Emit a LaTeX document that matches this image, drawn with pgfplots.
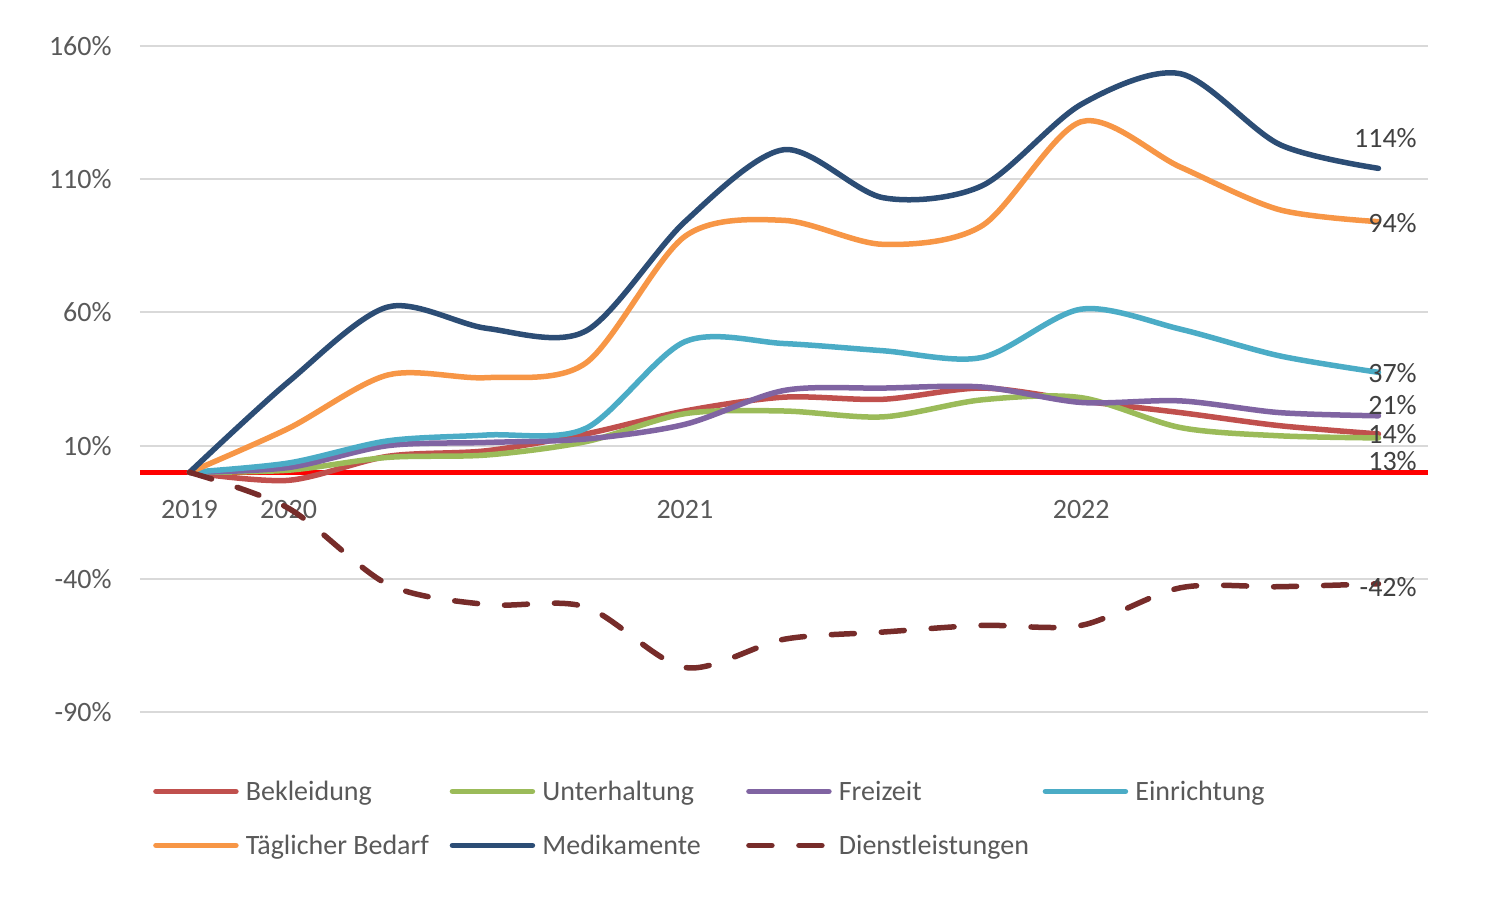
\documentclass[border=0pt]{standalone}
\usepackage{fontspec}
\setmainfont{Carlito}
\usepackage{pgfplots}
\usepackage{pgfplotstable}
\pgfplotsset{compat=1.18}
\definecolor{cBek}{HTML}{C0504D}
\definecolor{cUnt}{HTML}{9BBB59}
\definecolor{cFrei}{HTML}{8064A2}
\definecolor{cEin}{HTML}{4BACC6}
\definecolor{cTag}{HTML}{F79646}
\definecolor{cMed}{HTML}{2C4D75}
\definecolor{cDie}{HTML}{772C2A}
\definecolor{tickgray}{HTML}{595959}
\definecolor{labgray}{HTML}{404040}
\definecolor{gridgray}{HTML}{D9D9D9}

\pgfplotstableread{
x  Bek   Unt   Frei  Ein   Tag    Med    Die
0  0     0     0     0     0      0      0
1  -3    0.8   1.8   3.5   16.5   34     -13.5
2  6     5.6   10    11.8  36.5   62     -42
3  8.1   6.5   11.2  14    35.5   54     -49.6
4  14.4  11.5  12.5  16.5  41     53     -50.5
5  23    22    18    49    88.5   94     -73.2
6  28.2  23    30.7  48.3  94.5   121    -62.6
7  27.4  20.8  31.6  45.6  85.5   103    -59.9
8  31.6  27.2  32    43.1  92.5   107.5  -57.4
9  26.8  28    26.2  61.2  131.5  138    -57.4
10 22.4  16.8  26.8  53.7  114.5  149.5  -43.3
11 17.5  13.7  22.4  43.7  98.5   123    -42.9
12 14.4  12.9  21.2  37.5  94     114    -41.8
}\data

\begin{document}
\begin{tikzpicture}
\useasboundingbox (-70pt,-91.85pt) rectangle (678pt,356.15pt);
\begin{axis}[
  at={(0pt,0pt)}, anchor=south west,
  scale only axis, width=644pt, height=333.3pt,
  xmin=-0.5, xmax=12.5, ymin=-90, ymax=160,
  axis x line*=middle, axis y line*=left,
  x axis line style={draw=red, line width=2.4pt, -},
  y axis line style={draw=none},
  xtick={0,1,5,9}, xticklabels={2019,2020,2021,2022},
  ytick={-90,-40,10,60,110,160},
  yticklabels={-90\%,-40\%,10\%,60\%,110\%,160\%},
  major tick length=0pt,
  ymajorgrids, grid style={draw=gridgray, line width=1pt},
  tick label style={font=\fontsize{14pt}{17pt}\selectfont, text=tickgray},
  xticklabel style={anchor=north, inner sep=0pt, yshift=-13.65pt},
  yticklabel style={anchor=east, inner sep=0pt, xshift=-14pt},
  clip=false,
  every axis plot/.append style={smooth, line width=2.75pt, line cap=round, line join=round, mark=none},
  legend columns=4,
  legend cell align=left,
  legend style={at={(0,0)}, anchor=north west, xshift=6.4pt, yshift=-34.9pt,
    draw=none, fill=none, inner sep=0pt, row sep=18.1pt, column sep=0pt,
    font=\fontsize{14pt}{17pt}\selectfont, text=tickgray,
    nodes={inner xsep=3.6pt, inner ysep=0pt, text height=8.9pt, text depth=0pt}},
  legend image code/.code={\draw[#1] (0pt,0pt) -- (40pt,0pt);},
]
\addplot[cBek] table[x=x,y=Bek]{\data};
\addlegendentry{\makebox[98.3pt][l]{Bekleidung}}
\addplot[cUnt] table[x=x,y=Unt]{\data};
\addlegendentry{\makebox[98.3pt][l]{Unterhaltung}}
\addplot[cFrei] table[x=x,y=Frei]{\data};
\addlegendentry{\makebox[98.3pt][l]{Freizeit}}
\addplot[cEin] table[x=x,y=Ein]{\data};
\addlegendentry{\makebox[98.3pt][l]{Einrichtung}}
\addplot[cTag] table[x=x,y=Tag]{\data};
\addlegendentry{\makebox[98.3pt][l]{Täglicher Bedarf}}
\addplot[cMed] table[x=x,y=Med]{\data};
\addlegendentry{\makebox[98.3pt][l]{Medikamente}}
\addplot[cDie, dash pattern=on 11.5pt off 13.5pt] table[x=x,y=Die]{\data};
\addlegendentry{\makebox[98.3pt][l]{Dienstleistungen}}

\begin{scope}[every node/.style={anchor=east, inner sep=0pt, font=\fontsize{14pt}{17pt}\selectfont, text=labgray}]
\node at (axis cs:12.39,125.4) {114\%};
\node at (axis cs:12.39,93.5) {94\%};
\node at (axis cs:12.39,37.2) {37\%};
\node at (axis cs:12.39,25.2) {21\%};
\node at (axis cs:12.39,14.3) {14\%};
\node at (axis cs:12.39,4.2) {13\%};
\node at (axis cs:12.39,-43.2) {-42\%};
\end{scope}
\end{axis}
\end{tikzpicture}
\end{document}
